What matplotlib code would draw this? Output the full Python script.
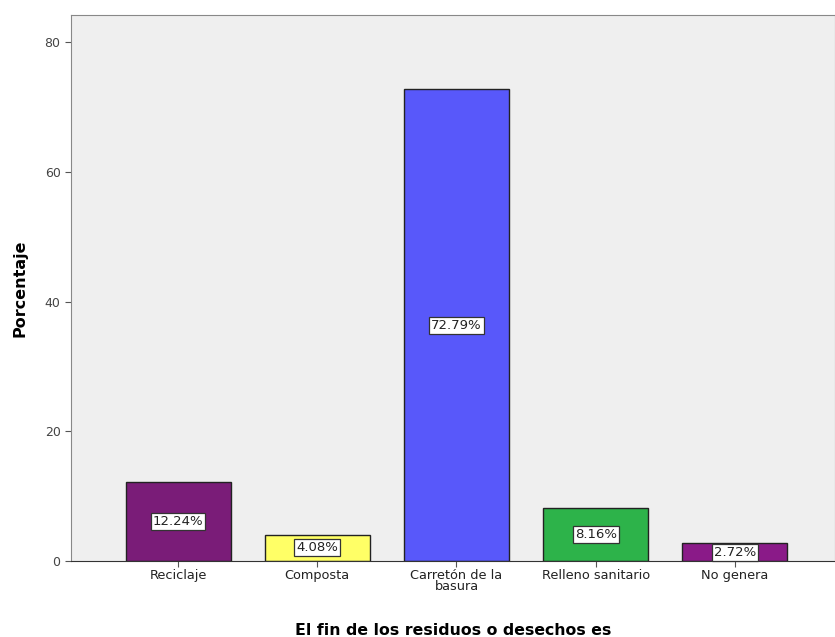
import numpy as np
import matplotlib.pyplot as plt

categories = ['Reciclaje', 'Composta', 'Carretón de la\nbasura', 'Relleno sanitario', 'No genera']
percentages = [12.24, 4.08, 72.79, 8.16, 2.72]
colors = ['#7a1c78', '#ffff66', '#5858fa', '#2db34a', '#8a1a88']

fig = plt.figure(figsize=(8.35, 6.37), dpi=100)
ax = fig.add_axes([0.085, 0.1193, 0.915, 0.857])
ax.set_facecolor('#efefef')

x = np.arange(len(categories))
ax.bar(x, percentages, width=0.755, color=colors, edgecolor='#222222', linewidth=1.0, zorder=2)

for xi, v in zip(x, percentages):
    ax.text(xi, v / 2, f'{v:.2f}%', ha='center', va='center', fontsize=9.5, color='#222222',
            bbox=dict(boxstyle='square,pad=0.15', facecolor='white', edgecolor='#333333', linewidth=0.9),
            zorder=3)

ax.set_xlim(-0.77, 4.72)
ax.set_ylim(0, 84.2)
ax.set_yticks([0, 20, 40, 60, 80])
ax.set_xticks(x)
ax.set_xticklabels(categories, fontsize=9.3, linespacing=0.8)
ax.tick_params(axis='y', labelsize=9, length=4, color='#555555', labelcolor='#444444')
ax.tick_params(axis='x', length=4, color='#555555', labelcolor='#222222', pad=2)

for side in ['left', 'top', 'right']:
    ax.spines[side].set_color('#888888')
ax.spines['bottom'].set_color('#333333')

ax.set_ylabel('Porcentaje', fontsize=11.5, fontweight='bold', labelpad=12)
ax.set_xlabel('El fin de los residuos o desechos es', fontsize=11.3, fontweight='bold', labelpad=21)

fig.savefig('out.png', dpi=100)
